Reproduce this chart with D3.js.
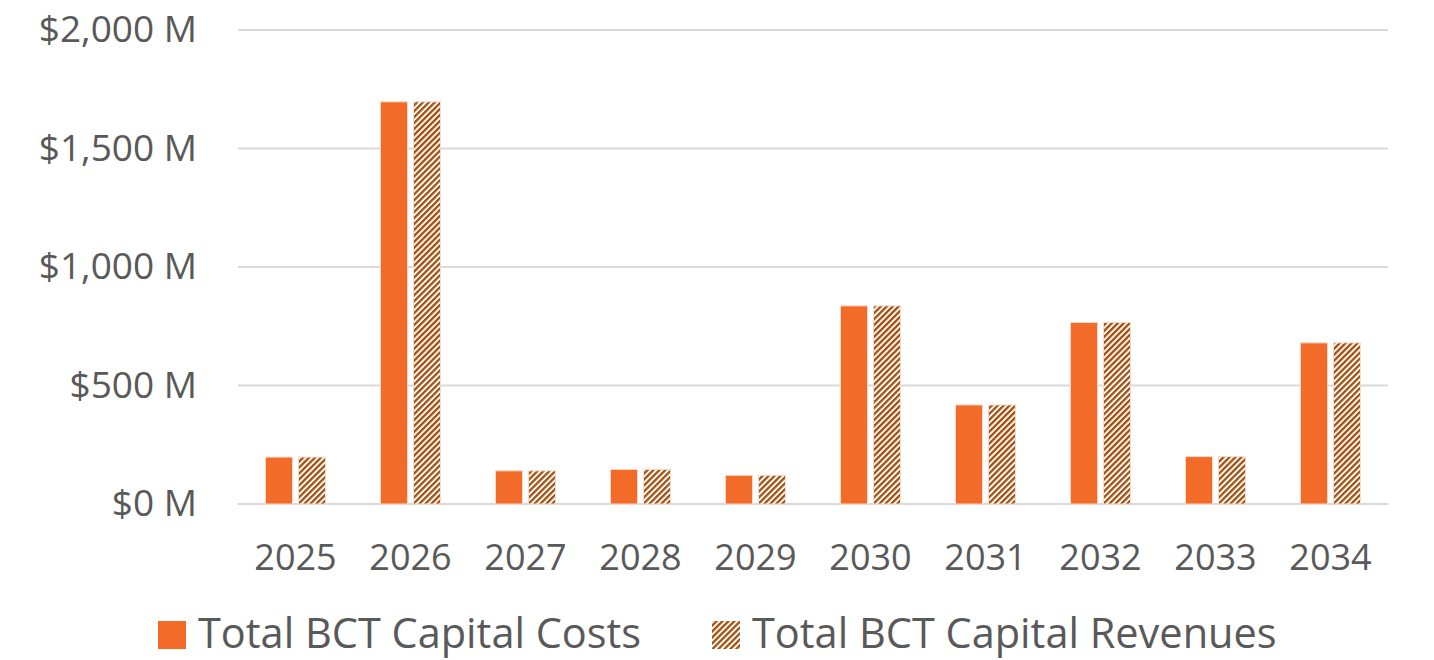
<!DOCTYPE html>
<html>
<head>
<meta charset="utf-8">
<script src="https://cdn.jsdelivr.net/npm/d3@7"></script>
<style>
  body { margin: 0; background: #fff; }
  text { font-family: "Open Sans", "Noto Sans", sans-serif; fill: #595959; }
</style>
</head>
<body>
<div id="chart"></div>
<script>
// data
const years = ["2025", "2026", "2027", "2028", "2029", "2030", "2031", "2032", "2033", "2034"];
const capitalCosts = [198, 1697, 140, 146, 121, 836, 418, 766, 200, 680];
const capitalRevenues = [198, 1697, 140, 146, 121, 836, 418, 766, 200, 680];
const seriesNames = ["Total BCT Capital Costs", "Total BCT Capital Revenues"];
const yTicks = [0, 500, 1000, 1500, 2000];

const outerWidth = 1434, outerHeight = 660;
const margin = { top: 30, right: 46, bottom: 156, left: 238 };
const width = outerWidth - margin.left - margin.right;
const height = outerHeight - margin.top - margin.bottom;

const svg = d3.select("#chart").append("svg")
    .attr("width", outerWidth)
    .attr("height", outerHeight);

// hatch pattern for revenues
const defs = svg.append("defs");
const pat = defs.append("pattern")
    .attr("id", "hatch")
    .attr("patternUnits", "userSpaceOnUse")
    .attr("width", 4.2)
    .attr("height", 4.2)
    .attr("patternTransform", "rotate(45)");
pat.append("rect").attr("width", 4.2).attr("height", 4.2).attr("fill", "#fff");
pat.append("rect").attr("width", 2.3).attr("height", 4.2).attr("fill", "#A64E0C");

const g = svg.append("g")
    .attr("transform", `translate(${margin.left}, ${margin.top})`);

// scales
const x = d3.scaleBand()
    .domain(years)
    .range([0, width]);

const y = d3.scaleLinear()
    .domain([0, 2000])
    .range([height, 0]);

// gridlines
g.selectAll(".grid")
    .data(yTicks)
    .enter()
    .append("line")
    .attr("x1", 0)
    .attr("x2", width)
    .attr("y1", d => y(d))
    .attr("y2", d => y(d))
    .attr("stroke", "#D9D9D9")
    .attr("stroke-width", 2);

// y axis
g.append("g")
    .call(d3.axisLeft(y).tickValues(yTicks).tickSize(0).tickPadding(41)
        .tickFormat(d => "$" + d3.format(",")(d) + " M"))
    .call(a => a.select(".domain").remove())
    .selectAll("text")
    .style("font-size", "37px")
    .attr("fill", "#595959");

// x axis
g.append("g")
    .attr("transform", `translate(0, ${height})`)
    .call(d3.axisBottom(x).tickSize(0).tickPadding(40))
    .call(a => a.select(".domain").remove())
    .selectAll("text")
    .style("font-size", "36px")
    .attr("fill", "#595959");

// bars
const barW = 27, gap = 6;
const groups = g.selectAll(".year")
    .data(years.map((yr, i) => ({ yr, cost: capitalCosts[i], rev: capitalRevenues[i] })))
    .enter()
    .append("g")
    .attr("transform", d => `translate(${x(d.yr) + x.bandwidth() / 2}, 0)`);

groups.append("rect")
    .attr("x", -barW - gap / 2)
    .attr("y", d => y(d.cost))
    .attr("width", barW)
    .attr("height", d => height - y(d.cost))
    .attr("fill", "#F26B29")
    .attr("stroke", "#FBD9C6")
    .attr("stroke-width", 1);

groups.append("rect")
    .attr("x", gap / 2)
    .attr("y", d => y(d.rev))
    .attr("width", barW)
    .attr("height", d => height - y(d.rev))
    .attr("fill", "url(#hatch)")
    .attr("stroke", "#F3DCCB")
    .attr("stroke-width", 1);

// legend
const legend = svg.append("g")
    .attr("transform", `translate(0, ${outerHeight - 24})`);

const legendItems = [
    { name: seriesNames[0], fill: "#F26B29", x: 158 },
    { name: seriesNames[1], fill: "url(#hatch)", x: 712 }
];

const li = legend.selectAll(".item")
    .data(legendItems)
    .enter()
    .append("g")
    .attr("transform", d => `translate(${d.x}, 0)`);

li.append("rect")
    .attr("x", 0)
    .attr("y", -15)
    .attr("width", 28)
    .attr("height", 28)
    .attr("fill", d => d.fill);

li.append("text")
    .attr("x", 40)
    .attr("y", 12)
    .style("font-size", "41.5px")
    .text(d => d.name);
</script>
</body>
</html>
